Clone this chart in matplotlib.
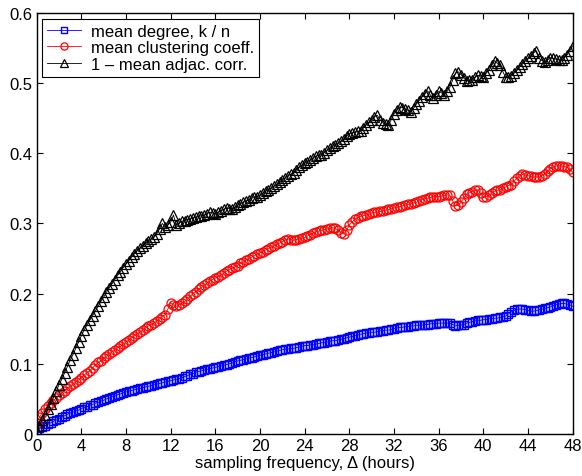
import numpy as np
import matplotlib
matplotlib.use("Agg")
import matplotlib.pyplot as plt

# Données (pas de 0.25 heure, une ligne = une heure)
heures = np.arange(0, 48.25, 0.25)

degre_moyen = [
    0.005, 0.008, 0.010, 0.012,  0.014, 0.016, 0.018, 0.020,
    0.022, 0.024, 0.026, 0.028,  0.030, 0.031, 0.033, 0.034,
    0.036, 0.038, 0.039, 0.041,  0.042, 0.044, 0.045, 0.047,
    0.048, 0.050, 0.051, 0.053,  0.054, 0.056, 0.057, 0.059,
    0.060, 0.061, 0.062, 0.063,  0.064, 0.065, 0.066, 0.067,
    0.068, 0.069, 0.070, 0.071,  0.072, 0.073, 0.074, 0.075,
    0.076, 0.077, 0.078, 0.079,  0.080, 0.082, 0.083, 0.085,
    0.086, 0.088, 0.089, 0.090,  0.091, 0.092, 0.093, 0.094,
    0.095, 0.096, 0.097, 0.098,  0.099, 0.100, 0.101, 0.103,
    0.104, 0.105, 0.106, 0.107,  0.108, 0.109, 0.110, 0.111,
    0.112, 0.113, 0.114, 0.115,  0.116, 0.117, 0.118, 0.119,
    0.120, 0.121, 0.121, 0.122,  0.122, 0.123, 0.124, 0.125,
    0.126, 0.126, 0.127, 0.127,  0.128, 0.129, 0.130, 0.130,
    0.131, 0.132, 0.133, 0.133,  0.134, 0.135, 0.136, 0.137,
    0.138, 0.139, 0.140, 0.141,  0.142, 0.143, 0.144, 0.144,
    0.145, 0.145, 0.146, 0.147,  0.147, 0.148, 0.148, 0.149,
    0.150, 0.151, 0.152, 0.152,  0.153, 0.153, 0.154, 0.154,
    0.155, 0.155, 0.155, 0.156,  0.156, 0.157, 0.157, 0.157,
    0.158, 0.158, 0.158, 0.158,  0.158, 0.156, 0.154, 0.155,
    0.155, 0.156, 0.158, 0.159,  0.160, 0.161, 0.162, 0.162,
    0.163, 0.163, 0.164, 0.164,  0.165, 0.165, 0.166, 0.167,
    0.168, 0.171, 0.174, 0.176,  0.178, 0.178, 0.178, 0.177,
    0.176, 0.175, 0.175, 0.176,  0.177, 0.178, 0.179, 0.180,
    0.181, 0.183, 0.184, 0.185,  0.186, 0.186, 0.185, 0.184,
    0.182,
]

clustering_moyen = [
    0.015, 0.024, 0.030, 0.036,  0.040, 0.044, 0.048, 0.051,
    0.055, 0.058, 0.062, 0.065,  0.068, 0.071, 0.074, 0.077,
    0.080, 0.084, 0.087, 0.090,  0.094, 0.098, 0.102, 0.104,
    0.108, 0.111, 0.114, 0.117,  0.120, 0.123, 0.125, 0.128,
    0.131, 0.134, 0.137, 0.140,  0.143, 0.145, 0.148, 0.151,
    0.154, 0.156, 0.158, 0.161,  0.164, 0.167, 0.170, 0.178,
    0.187, 0.184, 0.182, 0.184,  0.186, 0.189, 0.192, 0.196,
    0.200, 0.203, 0.206, 0.209,  0.212, 0.215, 0.218, 0.220,
    0.222, 0.224, 0.226, 0.229,  0.232, 0.234, 0.236, 0.238,
    0.240, 0.243, 0.245, 0.248,  0.250, 0.252, 0.254, 0.256,
    0.258, 0.260, 0.262, 0.264,  0.266, 0.268, 0.270, 0.272,
    0.274, 0.276, 0.278, 0.277,  0.276, 0.277, 0.278, 0.279,
    0.280, 0.282, 0.284, 0.286,  0.288, 0.289, 0.290, 0.291,
    0.292, 0.293, 0.294, 0.293,  0.290, 0.287, 0.285, 0.290,
    0.298, 0.302, 0.306, 0.308,  0.310, 0.311, 0.312, 0.313,
    0.315, 0.316, 0.316, 0.317,  0.318, 0.319, 0.320, 0.321,
    0.322, 0.323, 0.324, 0.325,  0.326, 0.327, 0.328, 0.329,
    0.330, 0.332, 0.334, 0.335,  0.336, 0.337, 0.338, 0.338,
    0.338, 0.339, 0.340, 0.341,  0.340, 0.332, 0.325, 0.326,
    0.330, 0.336, 0.342, 0.344,  0.345, 0.347, 0.348, 0.343,
    0.338, 0.338, 0.340, 0.343,  0.346, 0.347, 0.348, 0.350,
    0.352, 0.354, 0.355, 0.360,  0.365, 0.368, 0.370, 0.369,
    0.368, 0.367, 0.366, 0.366,  0.366, 0.368, 0.370, 0.374,
    0.378, 0.380, 0.382, 0.382,  0.382, 0.381, 0.380, 0.377,
    0.373,
]

correlation = [
    0.005, 0.012, 0.020, 0.027,  0.035, 0.043, 0.052, 0.061,
    0.070, 0.078, 0.087, 0.096,  0.105, 0.113, 0.122, 0.131,
    0.140, 0.148, 0.155, 0.162,  0.168, 0.175, 0.182, 0.189,
    0.195, 0.202, 0.208, 0.214,  0.220, 0.226, 0.231, 0.237,
    0.242, 0.247, 0.252, 0.257,  0.261, 0.265, 0.268, 0.272,
    0.275, 0.278, 0.280, 0.285,  0.292, 0.300, 0.295, 0.298,
    0.302, 0.312, 0.298, 0.300,  0.303, 0.304, 0.305, 0.307,
    0.308, 0.309, 0.310, 0.311,  0.312, 0.314, 0.316, 0.315,
    0.314, 0.316, 0.318, 0.320,  0.322, 0.321, 0.320, 0.323,
    0.326, 0.328, 0.330, 0.332,  0.334, 0.336, 0.337, 0.338,
    0.340, 0.343, 0.346, 0.348,  0.350, 0.353, 0.356, 0.359,
    0.362, 0.365, 0.368, 0.370,  0.372, 0.376, 0.380, 0.383,
    0.386, 0.388, 0.390, 0.393,  0.396, 0.397, 0.398, 0.401,
    0.404, 0.407, 0.410, 0.412,  0.414, 0.417, 0.420, 0.424,
    0.428, 0.429, 0.430, 0.431,  0.432, 0.436, 0.440, 0.444,
    0.448, 0.452, 0.454, 0.448,  0.443, 0.441, 0.440, 0.448,
    0.456, 0.461, 0.466, 0.465,  0.463, 0.461, 0.459, 0.464,
    0.470, 0.475, 0.480, 0.485,  0.489, 0.483, 0.478, 0.483,
    0.488, 0.486, 0.483, 0.488,  0.494, 0.504, 0.514, 0.516,
    0.512, 0.507, 0.503, 0.504,  0.505, 0.508, 0.511, 0.510,
    0.509, 0.514, 0.518, 0.525,  0.532, 0.528, 0.525, 0.516,
    0.508, 0.509, 0.510, 0.514,  0.518, 0.523, 0.527, 0.531,
    0.535, 0.539, 0.543, 0.546,  0.535, 0.532, 0.530, 0.533,
    0.536, 0.535, 0.534, 0.533,  0.533, 0.536, 0.540, 0.546,
    0.553,
]

noms_series = ["mean degree, k / n", "mean clustering coeff.", "1 \u2013 mean adjac. corr."]
ticks_x = list(range(0, 49, 4))
ticks_y = [0, 0.1, 0.2, 0.3, 0.4, 0.5, 0.6]
labels_y = ["0", "0.1", "0.2", "0.3", "0.4", "0.5", "0.6"]

plt.rcParams["font.family"] = ["Liberation Sans", "DejaVu Sans"]
plt.rcParams["font.size"] = 12

fig = plt.figure(figsize=(5.82, 4.77), dpi=100)
ax = fig.add_axes([0.063, 0.088, 0.921, 0.883])

ax.plot(heures, degre_moyen, color="blue", marker="s", markersize=5.5,
        markerfacecolor="none", markeredgewidth=1.0, linewidth=0.6, label=noms_series[0])
ax.plot(heures, clustering_moyen, color="red", marker="o", markersize=6.5,
        markerfacecolor="none", markeredgewidth=0.9, linewidth=0.6, label=noms_series[1])
ax.plot(heures, correlation, color="black", marker="^", markersize=6.5,
        markerfacecolor="none", markeredgewidth=0.9, linewidth=0.6, label=noms_series[2])

ax.set_xlim(0, 48)
ax.set_ylim(0, 0.6)
ax.set_xticks(ticks_x)
ax.set_yticks(ticks_y)
ax.set_yticklabels(labels_y)
ax.tick_params(direction="in", top=True, right=True, length=4, width=0.8, pad=3)
for s in ax.spines.values():
    s.set_linewidth(1.0)

ax.set_xlabel("sampling frequency, \u0394 (hours)", labelpad=1)

leg = ax.legend(loc="upper left", fancybox=False, framealpha=1, edgecolor="black",
                handlelength=2.0, borderpad=0.3, labelspacing=0.1,
                borderaxespad=0.35, handletextpad=0.6, fontsize=12, markerscale=0.8)
leg.get_frame().set_linewidth(0.8)

fig.savefig("out.png", dpi=100)
